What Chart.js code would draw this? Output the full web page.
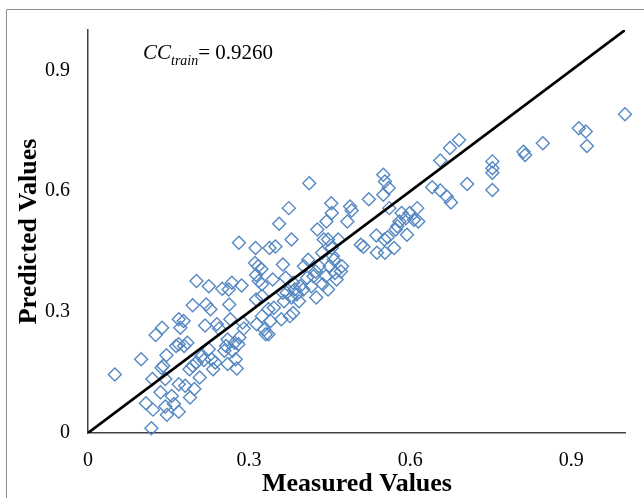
<!DOCTYPE html>
<html>
<head>
<meta charset="utf-8">
<script src="https://cdn.jsdelivr.net/npm/chart.js@4"></script>
<style>
html,body{margin:0;padding:0;background:#fff;}
#wrap{width:644px;height:498px;position:relative;}
</style>
</head>
<body>
<div id="wrap"><canvas id="c" width="644" height="498"></canvas></div>
<script>
const measured = [0.050,0.099,0.118,0.108,0.121,0.120,0.126,0.138,0.137,0.140,0.135,0.146,0.144,0.147,0.144,0.156,0.160,0.169,0.164,0.169,0.169,0.172,0.179,0.185,0.178,0.169,0.181,0.189,0.190,0.195,0.195,0.198,0.202,0.202,0.208,0.211,0.216,0.218,0.220,0.225,0.228,0.233,0.230,0.237,0.240,0.244,0.250,0.254,0.257,0.260,0.260,0.262,0.263,0.265,0.268,0.269,0.273,0.275,0.277,0.281,0.282,0.286,0.288,0.290,0.225,0.312,0.311,0.317,0.318,0.313,0.314,0.323,0.324,0.324,0.328,0.331,0.336,0.338,0.344,0.346,0.349,0.356,0.360,0.363,0.363,0.365,0.368,0.374,0.376,0.379,0.382,0.382,0.385,0.389,0.393,0.395,0.402,0.410,0.412,0.416,0.420,0.425,0.427,0.430,0.436,0.437,0.444,0.447,0.447,0.453,0.454,0.454,0.458,0.460,0.463,0.466,0.471,0.483,0.488,0.491,0.450,0.443,0.456,0.424,0.508,0.513,0.523,0.537,0.538,0.550,0.550,0.553,0.552,0.553,0.558,0.560,0.561,0.570,0.576,0.580,0.584,0.592,0.594,0.599,0.607,0.613,0.615,0.573,0.641,0.656,0.656,0.668,0.676,0.674,0.691,0.706,0.753,0.753,0.753,0.753,0.811,0.814,0.847,0.914,0.927,0.929,1.000,0.370,0.379,0.340,0.324,0.280,0.336,0.408,0.401,0.473,0.439,0.313];
const predicted = [0.145,0.183,0.012,0.074,0.058,0.134,0.243,0.261,0.162,0.167,0.101,0.193,0.134,0.045,0.066,0.092,0.072,0.053,0.216,0.220,0.282,0.261,0.216,0.224,0.278,0.121,0.117,0.158,0.088,0.317,0.167,0.109,0.377,0.175,0.138,0.190,0.181,0.267,0.319,0.364,0.307,0.158,0.183,0.175,0.270,0.259,0.358,0.204,0.216,0.232,0.171,0.356,0.319,0.282,0.373,0.204,0.224,0.183,0.160,0.472,0.237,0.366,0.274,0.259,0.208,0.459,0.422,0.414,0.377,0.331,0.270,0.407,0.369,0.340,0.257,0.245,0.245,0.459,0.381,0.311,0.463,0.519,0.282,0.418,0.348,0.327,0.385,0.558,0.290,0.480,0.298,0.373,0.356,0.344,0.327,0.364,0.414,0.430,0.620,0.364,0.389,0.336,0.505,0.414,0.447,0.369,0.525,0.480,0.356,0.570,0.546,0.459,0.430,0.397,0.381,0.480,0.401,0.525,0.562,0.552,0.414,0.389,0.439,0.401,0.467,0.462,0.580,0.490,0.447,0.641,0.591,0.624,0.480,0.447,0.486,0.608,0.558,0.459,0.513,0.525,0.546,0.533,0.492,0.546,0.529,0.558,0.525,0.505,0.610,0.676,0.602,0.587,0.572,0.707,0.727,0.618,0.674,0.657,0.646,0.603,0.698,0.690,0.719,0.756,0.748,0.712,0.791,0.348,0.336,0.278,0.290,0.220,0.307,0.385,0.356,0.414,0.480,0.392];
const lineX = [0, 1];
const lineY = [0, 1];
const xTicks = [0, 0.3, 0.6, 0.9];
const yTicks = [0, 0.3, 0.6, 0.9];
const xTickLabels = ["0", "0.3", "0.6", "0.9"];
const yTickLabels = ["0", "0.3", "0.6", "0.9"];
const xTitle = "Measured Values";
const yTitle = "Predicted Values";
const ccMain = "CC";
const ccSub = "train";
const ccValue = "= 0.9260";

const SERIF = "'Liberation Serif', 'Times New Roman', serif";

const points = measured.map((x, i) => ({x: x, y: predicted[i]}));
const linePts = lineX.map((x, i) => ({x: x, y: lineY[i]}));

const annot = {
  id: 'annot',
  afterDraw(chart) {
    const ctx = chart.ctx;
    const ca = chart.chartArea;
    ctx.save();
    // outer frame
    ctx.strokeStyle = '#8c8c8c';
    ctx.lineWidth = 1;
    ctx.beginPath();
    ctx.moveTo(6.5, 498);
    ctx.lineTo(6.5, 9.5);
    ctx.lineTo(644, 9.5);
    ctx.stroke();
    ctx.fillStyle = '#000';
    // x title
    ctx.font = "bold 26px " + SERIF;
    ctx.textAlign = 'center';
    ctx.textBaseline = 'alphabetic';
    ctx.fillText(xTitle, 357, 491);
    // y title
    ctx.save();
    ctx.translate(36, (ca.top + ca.bottom) / 2);
    ctx.rotate(-Math.PI / 2);
    ctx.fillText(yTitle, 0, 0);
    ctx.restore();
    // CC text
    ctx.textAlign = 'left';
    ctx.font = "italic 21px " + SERIF;
    ctx.fillText(ccMain, 143, 59);
    let w = ctx.measureText(ccMain).width;
    ctx.font = "italic 14px " + SERIF;
    ctx.fillText(ccSub, 143 + w, 65);
    let w2 = ctx.measureText(ccSub).width;
    ctx.font = "21px " + SERIF;
    ctx.fillText(ccValue, 143 + w + w2, 59);
    ctx.restore();
  }
};

new Chart(document.getElementById('c'), {
  type: 'scatter',
  data: {
    datasets: [
      {
        data: points,
        pointStyle: 'rectRot',
        pointRadius: 6.5,
        pointHoverRadius: 6.5,
        pointBorderWidth: 1.4,
        borderColor: '#5588c2',
        backgroundColor: 'rgba(0,0,0,0)',
        clip: false,
        order: 2
      },
      {
        data: linePts,
        showLine: true,
        borderColor: '#000',
        borderWidth: 2.6,
        pointRadius: 0,
        fill: false,
        order: 1
      }
    ]
  },
  options: {
    responsive: false,
    animation: false,
    events: [],
    layout: { padding: { left: 0, right: 19, top: 28, bottom: 0 } },
    plugins: { legend: { display: false }, tooltip: { enabled: false }, title: { display: false } },
    scales: {
      x: {
        type: 'linear', min: 0, max: 1,
        grid: { display: false, drawTicks: false },
        border: { display: true, color: '#404040', width: 1.5 },
        afterBuildTicks: (s) => { s.ticks = xTicks.map(v => ({ value: v })); },
        afterFit: (s) => { s.height = 65; },
        ticks: {
          padding: 16, color: '#000', maxRotation: 0, autoSkip: false,
          font: { family: SERIF, size: 20 },
          callback: (v) => { const i = xTicks.indexOf(v); return i >= 0 ? xTickLabels[i] : ''; }
        }
      },
      y: {
        type: 'linear', min: 0, max: 1,
        grid: { display: false, drawTicks: false },
        border: { display: true, color: '#404040', width: 1.5 },
        afterBuildTicks: (s) => { s.ticks = yTicks.map(v => ({ value: v })); },
        afterFit: (s) => { s.width = 88; },
        ticks: {
          padding: 18, color: '#000', autoSkip: false,
          font: { family: SERIF, size: 20 },
          callback: (v) => { const i = yTicks.indexOf(v); return i >= 0 ? yTickLabels[i] : ''; }
        }
      }
    }
  },
  plugins: [annot]
});
</script>
</body>
</html>
